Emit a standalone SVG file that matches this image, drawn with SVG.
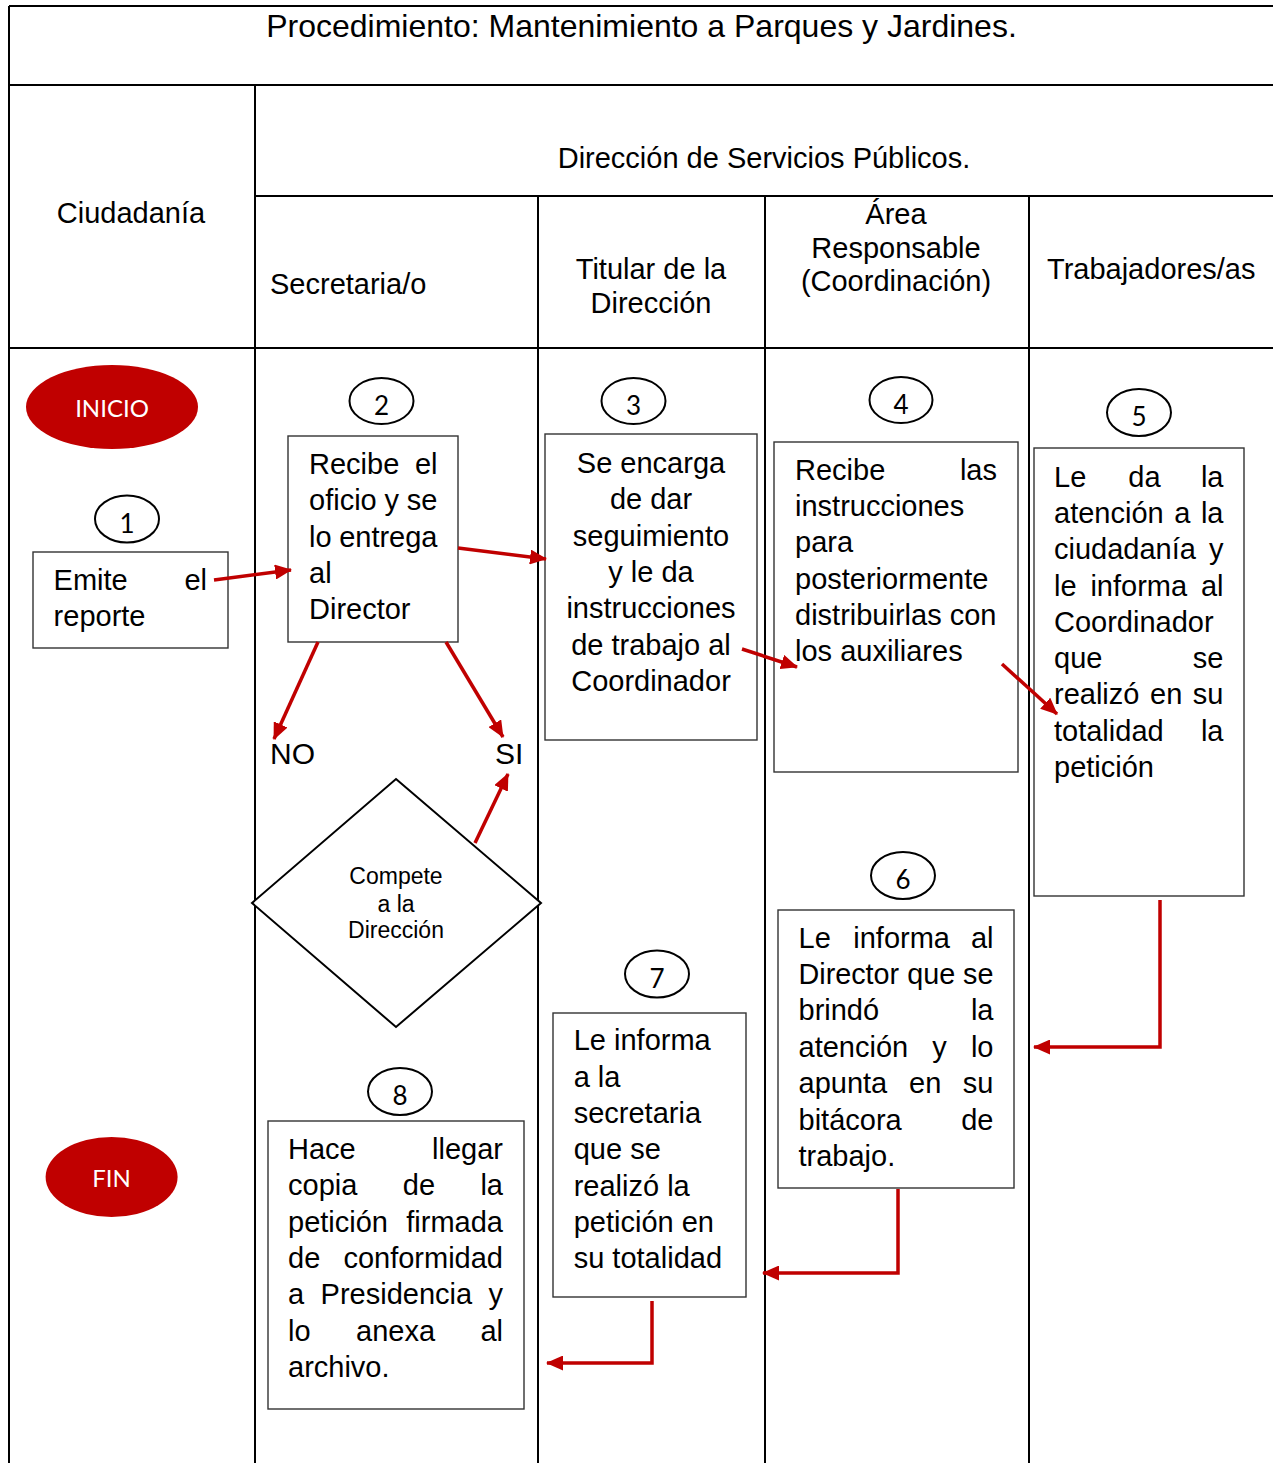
<svg xmlns="http://www.w3.org/2000/svg" width="1273" height="1463" viewBox="0 0 1273 1463">
<style>
.t{font-family:"Liberation Sans",Arial,sans-serif;font-size:29px;fill:#000}
.d{font-family:"Liberation Sans",Arial,sans-serif;font-size:23px;fill:#000}
.n{font-family:Lato,"Open Sans",sans-serif;font-size:26px;fill:#000;text-anchor:middle}
.w{font-family:Lato,"Open Sans",sans-serif;font-size:24px;fill:#fff;text-anchor:middle}
.m{text-anchor:middle}
.e{text-anchor:end}
.grid{stroke:#000;stroke-width:2;fill:none}
.box{fill:#fff;stroke:#333;stroke-width:1.4}
.num{fill:#fff;stroke:#000;stroke-width:2}
.term{fill:#C00000}
.arr{stroke:#C00000;stroke-width:3.5;fill:none;marker-end:url(#ah)}
</style>
<defs>
<marker id="ah" markerUnits="userSpaceOnUse" markerWidth="17" markerHeight="15" refX="16" refY="7.5" orient="auto">
<path d="M0,0 L17,7.5 L0,15 Z" fill="#C00000"/>
</marker>
</defs>
<rect width="1273" height="1463" fill="#fff"/>
<g id="table">
<path class="grid" d="M9,6 H1273 M9,85 H1273 M255,196 H1273 M9,348 H1273 M9,6 V1463 M255,85 V1463 M538,196 V1463 M765,196 V1463 M1029,196 V1463"/>
<text class="t m" x="641.5" y="37" style="font-size:32px">Procedimiento: Mantenimiento a Parques y Jardines.</text>
<text class="t m" x="764" y="168">Dirección de Servicios Públicos.</text>
<text class="t m" x="131" y="223">Ciudadanía</text>
<text class="t" x="270" y="294">Secretaria/o</text>
<text class="t m" x="651" y="279">Titular de la</text>
<text class="t m" x="651" y="313">Dirección</text>
<text class="t m" x="896" y="224">Área</text>
<text class="t m" x="896" y="258">Responsable</text>
<text class="t m" x="896" y="291">(Coordinación)</text>
<text class="t" x="1047" y="279">Trabajadores/as</text>
</g>
<g id="inicio">
<ellipse class="term" cx="112" cy="407" rx="86" ry="42"/>
<text class="w" x="112" y="417">INICIO</text>
</g>
<g id="fin">
<ellipse class="term" cx="111.6" cy="1177" rx="66" ry="40"/>
<text class="w" x="111.6" y="1187">FIN</text>
</g>
<g id="step1">
<ellipse class="num" cx="127" cy="519" rx="32" ry="23.5"/>
<text class="n" x="127" y="532.5">1</text>
<rect class="box" x="33" y="552" width="195" height="96"/>
<text class="t" x="53.6" y="590">Emite</text>
<text class="t e" x="207" y="590">el</text>
<text class="t" x="53.6" y="626">reporte</text>
</g>
<g id="step2">
<ellipse class="num" cx="381.5" cy="401" rx="32" ry="23"/>
<text class="n" x="381.5" y="414.5">2</text>
<rect class="box" x="288" y="436" width="170" height="206"/>
<text class="t" x="309" y="474">Recibe</text>
<text class="t e" x="437.5" y="474">el</text>
<text class="t" x="309" y="510">oficio</text>
<text class="t" x="384.5" y="510">y</text>
<text class="t e" x="437.5" y="510">se</text>
<text class="t" x="309" y="547">lo</text>
<text class="t e" x="437.5" y="547">entrega</text>
<text class="t" x="309" y="583">al</text>
<text class="t" x="309" y="619">Director</text>
</g>
<g id="step3">
<ellipse class="num" cx="633.5" cy="401" rx="32" ry="23"/>
<text class="n" x="633.5" y="414.5">3</text>
<rect class="box" x="545" y="434" width="212" height="306"/>
<text class="t m" x="651" y="473">Se encarga</text>
<text class="t m" x="651" y="509">de dar</text>
<text class="t m" x="651" y="546">seguimiento</text>
<text class="t m" x="651" y="582">y le da</text>
<text class="t m" x="651" y="618">instrucciones</text>
<text class="t m" x="651" y="655">de trabajo al</text>
<text class="t m" x="651" y="691">Coordinador</text>
</g>
<g id="step4">
<ellipse class="num" cx="901" cy="400" rx="31.5" ry="23"/>
<text class="n" x="901" y="413.5">4</text>
<rect class="box" x="774" y="442" width="244" height="330"/>
<text class="t" x="795" y="480">Recibe</text>
<text class="t e" x="997" y="480">las</text>
<text class="t" x="795" y="516">instrucciones</text>
<text class="t" x="795" y="552">para</text>
<text class="t" x="795" y="589">posteriormente</text>
<text class="t" x="795" y="625">distribuirlas con</text>
<text class="t" x="795" y="661">los auxiliares</text>
</g>
<g id="step5">
<ellipse class="num" cx="1139" cy="412.5" rx="32" ry="23.5"/>
<text class="n" x="1139" y="426">5</text>
<rect class="box" x="1034" y="448" width="210" height="448"/>
<text class="t" x="1054" y="487">Le</text>
<text class="t" x="1128.3" y="487">da</text>
<text class="t e" x="1223.5" y="487">la</text>
<text class="t" x="1054" y="523">atención</text>
<text class="t" x="1174.2" y="523">a</text>
<text class="t e" x="1223.5" y="523">la</text>
<text class="t" x="1054" y="559">ciudadanía</text>
<text class="t e" x="1223.5" y="559">y</text>
<text class="t" x="1054" y="596">le</text>
<text class="t" x="1090.4" y="596">informa</text>
<text class="t e" x="1223.5" y="596">al</text>
<text class="t" x="1054" y="632">Coordinador</text>
<text class="t" x="1054" y="668">que</text>
<text class="t e" x="1223.5" y="668">se</text>
<text class="t" x="1054" y="704">realizó</text>
<text class="t" x="1150" y="704">en</text>
<text class="t e" x="1223.5" y="704">su</text>
<text class="t" x="1054" y="741">totalidad</text>
<text class="t e" x="1223.5" y="741">la</text>
<text class="t" x="1054" y="777">petición</text>
</g>
<g id="step6">
<ellipse class="num" cx="903" cy="875.5" rx="32" ry="23.5"/>
<text class="n" x="903" y="889">6</text>
<rect class="box" x="778" y="910" width="236" height="278"/>
<text class="t" x="798.5" y="948">Le</text>
<text class="t" x="853.3" y="948">informa</text>
<text class="t e" x="993.5" y="948">al</text>
<text class="t" x="798.5" y="984" textLength="195" lengthAdjust="spacingAndGlyphs">Director que se</text>
<text class="t" x="798.5" y="1020">brindó</text>
<text class="t e" x="993.5" y="1020">la</text>
<text class="t" x="798.5" y="1057">atención</text>
<text class="t" x="932.3" y="1057">y</text>
<text class="t e" x="993.5" y="1057">lo</text>
<text class="t" x="798.5" y="1093">apunta</text>
<text class="t" x="909" y="1093">en</text>
<text class="t e" x="993.5" y="1093">su</text>
<text class="t" x="798.5" y="1130">bitácora</text>
<text class="t e" x="993.5" y="1130">de</text>
<text class="t" x="798.5" y="1166">trabajo.</text>
</g>
<g id="step7">
<ellipse class="num" cx="657" cy="974" rx="32" ry="23.5"/>
<text class="n" x="657" y="987.5">7</text>
<rect class="box" x="553" y="1013" width="193" height="284"/>
<text class="t" x="573.7" y="1050">Le informa</text>
<text class="t" x="573.7" y="1087">a la</text>
<text class="t" x="573.7" y="1123">secretaria</text>
<text class="t" x="573.7" y="1159">que se</text>
<text class="t" x="573.7" y="1196">realizó la</text>
<text class="t" x="573.7" y="1232">petición en</text>
<text class="t" x="573.7" y="1268">su totalidad</text>
</g>
<g id="step8">
<ellipse class="num" cx="400" cy="1091.5" rx="32" ry="23.5"/>
<text class="n" x="400" y="1105">8</text>
<rect class="box" x="268" y="1121" width="256" height="288"/>
<text class="t" x="288" y="1159">Hace</text>
<text class="t e" x="503" y="1159">llegar</text>
<text class="t" x="288" y="1195">copia</text>
<text class="t" x="402.8" y="1195">de</text>
<text class="t e" x="503" y="1195">la</text>
<text class="t" x="288" y="1232">petición</text>
<text class="t e" x="503" y="1232">firmada</text>
<text class="t" x="288" y="1268">de</text>
<text class="t e" x="503" y="1268">conformidad</text>
<text class="t" x="288" y="1304">a</text>
<text class="t" x="320.6" y="1304">Presidencia</text>
<text class="t e" x="503" y="1304">y</text>
<text class="t" x="288" y="1341">lo</text>
<text class="t" x="356" y="1341">anexa</text>
<text class="t e" x="503" y="1341">al</text>
<text class="t" x="288" y="1377">archivo.</text>
</g>
<g id="decision">
<polygon points="396,779 541,903 396,1027 252,903" fill="#fff" stroke="#000" stroke-width="2"/>
<text class="d m" x="396" y="884">Compete</text>
<text class="d m" x="396" y="912">a la</text>
<text class="d m" x="396" y="938">Dirección</text>
</g>
<g id="labels">
<text class="t" x="270" y="764" style="font-size:30px">NO</text>
<text class="t" x="495" y="764" style="font-size:30px">SI</text>
</g>
<g id="connectors">
<line class="arr" x1="214" y1="580" x2="291" y2="570"/>
<line class="arr" x1="458" y1="548" x2="546" y2="559"/>
<line class="arr" x1="742" y1="649" x2="797" y2="667"/>
<line class="arr" x1="1002" y1="664" x2="1057" y2="714"/>
<line class="arr" x1="318" y1="642" x2="274" y2="739"/>
<line class="arr" x1="446" y1="642" x2="503" y2="737"/>
<line class="arr" x1="475" y1="843" x2="508" y2="774"/>
<polyline class="arr" points="1160,900 1160,1047 1034,1047"/>
<polyline class="arr" points="898,1189 898,1273 763,1273"/>
<polyline class="arr" points="652,1301 652,1363 547,1363"/>
</g>
</svg>
